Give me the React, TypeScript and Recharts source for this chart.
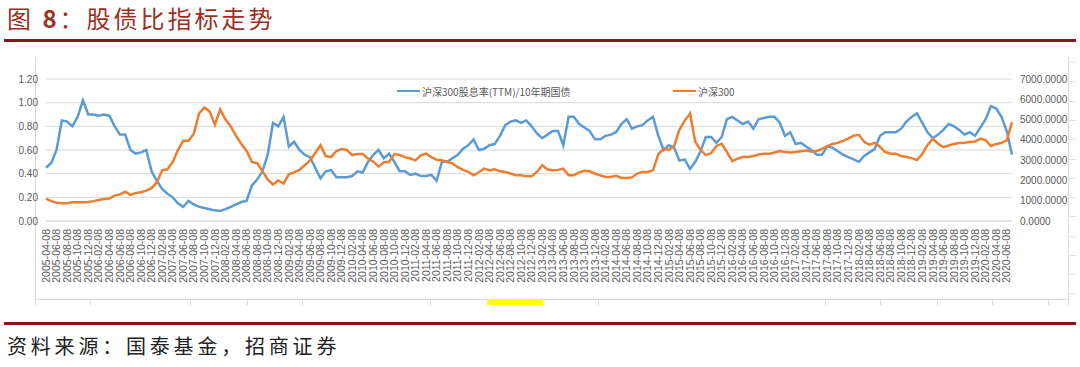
import React from 'react';
import { LineChart, Line, XAxis, YAxis, CartesianGrid } from 'recharts';

// monthly samples, 2005-04 .. 2020-07
const START_YEAR = 2005;
const START_MONTH = 4;

const ratio = [
  0.45, 0.49, 0.6, 0.85, 0.84, 0.8, 0.88, 1.02, 0.9, 0.9, 0.89, 0.9, 0.89, 0.8, 0.73, 0.73,
  0.6, 0.57, 0.58, 0.6, 0.42, 0.34, 0.27, 0.23, 0.2, 0.15, 0.12, 0.17, 0.14, 0.12, 0.11, 0.1,
  0.09, 0.085, 0.1, 0.12, 0.14, 0.16, 0.17, 0.3, 0.35, 0.42, 0.56, 0.83, 0.8, 0.88, 0.63, 0.67,
  0.6, 0.56, 0.54, 0.45, 0.36, 0.42, 0.43, 0.37, 0.37, 0.37, 0.38, 0.42, 0.41, 0.5, 0.56, 0.6,
  0.53, 0.57, 0.5, 0.42, 0.42, 0.39, 0.4, 0.38, 0.38, 0.39, 0.34, 0.5, 0.5, 0.53, 0.56, 0.61,
  0.64, 0.69, 0.6, 0.61, 0.64, 0.65, 0.72, 0.81, 0.84, 0.85, 0.83, 0.85, 0.8, 0.74, 0.7, 0.73,
  0.76, 0.76, 0.64, 0.88, 0.88, 0.82, 0.79, 0.76, 0.69, 0.69, 0.72, 0.73, 0.75, 0.82, 0.86, 0.78,
  0.8, 0.81, 0.85, 0.88, 0.72, 0.6, 0.64, 0.62, 0.51, 0.52, 0.44, 0.5, 0.59, 0.71, 0.71, 0.66,
  0.71, 0.86, 0.88, 0.85, 0.82, 0.84, 0.78, 0.86, 0.87, 0.88, 0.88, 0.83, 0.72, 0.75, 0.65, 0.66,
  0.63, 0.6, 0.56, 0.56, 0.63, 0.62, 0.59, 0.56, 0.54, 0.52, 0.5, 0.55, 0.58, 0.61, 0.72, 0.75,
  0.75, 0.75, 0.78, 0.84, 0.88, 0.91, 0.83, 0.75, 0.7, 0.73, 0.77, 0.82, 0.8, 0.77, 0.73, 0.75,
  0.72, 0.79, 0.86, 0.97, 0.95, 0.88, 0.76, 0.56,
];

const hs300 = [
  1100, 980, 900, 870, 880, 930, 930, 920, 940, 980, 1040, 1080, 1110, 1250, 1310, 1440,
  1290, 1380, 1420, 1500, 1620, 1900, 2500, 2550, 2900, 3500, 3950, 3950, 4300, 5300, 5600, 5400,
  4750, 5500, 5000, 4660, 4200, 3800, 3450, 2910, 2850, 2450, 2050, 1800, 2000, 1850, 2300, 2400,
  2520, 2750, 2980, 3350, 3730, 3200, 3150, 3450, 3550, 3500, 3250, 3300, 3300, 3080, 2930, 2680,
  2900, 2920, 3300, 3250, 3150, 3080, 2990, 3235, 3320, 3150, 3020, 2990, 2910, 2840, 2650, 2520,
  2420, 2250, 2400, 2580, 2500, 2550, 2450, 2420, 2340, 2260, 2250, 2200, 2200, 2420, 2745, 2550,
  2500, 2520, 2580, 2250, 2250, 2400, 2480, 2450, 2330, 2250, 2170, 2170, 2230, 2120, 2120, 2150,
  2340, 2420, 2420, 2500, 3300, 3560, 3500, 3700, 4500, 4950, 5300, 3900, 3500, 3250, 3350, 3700,
  3810, 3400, 2950, 3070, 3150, 3150, 3200, 3280, 3320, 3320, 3380, 3450, 3400, 3380, 3400, 3440,
  3480, 3420, 3450, 3560, 3690, 3800, 3850, 3950, 4070, 4200, 4250, 3900, 3760, 3850, 3650, 3400,
  3320, 3320, 3200, 3150, 3100, 3000, 3300, 3750, 4050, 3810, 3640, 3720, 3800, 3850, 3860, 3890,
  3920, 4050, 3990, 3700, 3800, 3850, 3970, 4870,
];

const dates = ratio.map((_, i) => {
  const t = START_MONTH - 1 + i;
  const y = START_YEAR + Math.floor(t / 12);
  const m = (t % 12) + 1;
  return `${y}-${String(m).padStart(2, '0')}-08`;
});

const leftTicks = [0, 0.2, 0.4, 0.6, 0.8, 1.0, 1.2];
const rightTicks = [0, 1000, 2000, 3000, 4000, 5000, 6000, 7000];

const seriesNames = ['沪深300股息率(TTM)/10年期国债', '沪深300'];
const seriesColors = ['#5B9BD5', '#ED7D31'];

const data = dates.map((d, i) => ({ date: d, ratio: ratio[i], hs300: hs300[i] }));

const AXIS_FONT = '"Liberation Sans", Arial, sans-serif';
const CJK_FONT = '"Noto Sans CJK SC", sans-serif';

const DateTick = (props: any) => {
  const { x, y, payload } = props;
  return (
    <g transform={`translate(${x},${y})`}>
      <text
        transform="rotate(-90)"
        textAnchor="end"
        dy="0.35em"
        fill="#595959"
        fontSize={10.5}
        fontFamily={AXIS_FONT}
      >
        {payload.value}
      </text>
    </g>
  );
};

const rowTicks = [62, 81, 101, 120, 139, 159, 178, 197, 216, 236, 255, 274, 293];
const colTicks = [90, 190, 247, 302, 430, 598, 825, 880, 937, 992, 1048];

export default function App() {
  return (
    <div
      style={{
        position: 'absolute',
        left: 0,
        top: 0,
        width: 1080,
        height: 367,
        background: '#fff',
        overflow: 'hidden',
      }}
    >
      {/* title */}
      <div
        style={{
          position: 'absolute',
          left: 7,
          top: 0,
          fontSize: 24,
          lineHeight: '35px',
          letterSpacing: 3,
          color: '#9c2f1e',
          fontFamily: CJK_FONT,
          whiteSpace: 'nowrap',
        }}
      >
        图 <b>8</b>：股债比指标走势
      </div>
      <div style={{ position: 'absolute', left: 4, top: 39, width: 1072, height: 3, background: '#8c1515' }} />

      {/* excel-ish frame */}
      <div style={{ position: 'absolute', left: 35, top: 57, width: 1, height: 248, background: '#d9d9d9' }} />
      <div style={{ position: 'absolute', left: 1068, top: 57, width: 1, height: 248, background: '#d9d9d9' }} />
      <div style={{ position: 'absolute', left: 35, top: 299, width: 1034, height: 1, background: '#d9d9d9' }} />
      {rowTicks.map((t) => (
        <div key={t} style={{ position: 'absolute', left: 1068, top: t, width: 8, height: 1, background: '#e3e3e3' }} />
      ))}
      {colTicks.map((t) => (
        <div key={t} style={{ position: 'absolute', left: t, top: 299, width: 1, height: 6, background: '#d9d9d9' }} />
      ))}
      <div style={{ position: 'absolute', left: 487, top: 299, width: 56, height: 6, background: '#ffff00' }} />

      <div style={{ position: 'absolute', left: 0, top: 0 }}>
        <LineChart
          width={1080}
          height={300}
          data={data}
          margin={{ top: 79, right: 0, bottom: 0, left: 0 }}
        >
          <CartesianGrid yAxisId="left" vertical={false} stroke="#d9d9d9" />
          <XAxis
            dataKey="date"
            interval={1}
            height={79}
            tick={<DateTick />}
            tickLine={false}
            axisLine={{ stroke: '#d9d9d9' }}
          />
          <YAxis
            yAxisId="left"
            width={46}
            domain={[0, 1.2]}
            ticks={leftTicks}
            tickFormatter={(v: number) => v.toFixed(2)}
            tick={{ fill: '#595959', fontSize: 10, fontFamily: AXIS_FONT }}
            tickLine={false}
            axisLine={false}
          />
          <YAxis
            yAxisId="right"
            orientation="right"
            width={68}
            domain={[0, 7000]}
            ticks={rightTicks}
            tickFormatter={(v: number) => v.toFixed(4)}
            tick={{ fill: '#595959', fontSize: 10, fontFamily: AXIS_FONT, textAnchor: 'start' }}
            tickLine={false}
            axisLine={false}
          />
          <Line
            yAxisId="left"
            type="linear"
            dataKey="ratio"
            stroke={seriesColors[0]}
            strokeWidth={2.5}
            dot={false}
            isAnimationActive={false}
          />
          <Line
            yAxisId="right"
            type="linear"
            dataKey="hs300"
            stroke={seriesColors[1]}
            strokeWidth={2.5}
            dot={false}
            isAnimationActive={false}
          />
        </LineChart>
      </div>

      {/* legend */}
      {seriesNames.map((name, i) => (
        <div
          key={name}
          style={{
            position: 'absolute',
            left: i === 0 ? 397 : 673,
            top: 84,
            height: 14,
            display: 'flex',
            alignItems: 'center',
            fontSize: 10,
            color: '#595959',
            fontFamily: CJK_FONT,
            whiteSpace: 'nowrap',
          }}
        >
          <span style={{ display: 'inline-block', width: 23, height: 2.5, background: seriesColors[i], marginRight: 2 }} />
          {name}
        </div>
      ))}

      <div style={{ position: 'absolute', left: 4, top: 322, width: 1072, height: 3, background: '#8c1515' }} />
      <div
        style={{
          position: 'absolute',
          left: 7,
          top: 331,
          fontSize: 20,
          lineHeight: '29px',
          letterSpacing: 3.8,
          color: '#222',
          fontFamily: CJK_FONT,
          whiteSpace: 'nowrap',
        }}
      >
        资料来源：国泰基金，招商证券
      </div>
    </div>
  );
}
